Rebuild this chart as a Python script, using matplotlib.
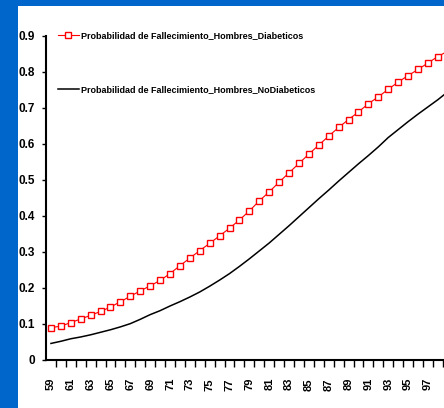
import matplotlib
matplotlib.use('Agg')
import matplotlib.pyplot as plt
from matplotlib.patches import Rectangle
import numpy as np

# ages shown on the category axis
ages = list(range(59, 100))

# probabilities
diabeticos = [0.090, 0.094, 0.104, 0.114, 0.124, 0.135, 0.147, 0.162, 0.177, 0.192,
              0.206, 0.221, 0.240, 0.262, 0.283, 0.304, 0.324, 0.345, 0.366, 0.389,
              0.414, 0.442, 0.467, 0.494, 0.520, 0.546, 0.572, 0.597, 0.622, 0.646,
              0.668, 0.689, 0.712, 0.731, 0.752, 0.772, 0.790, 0.807, 0.825, 0.843,
              0.858]
no_diabeticos = [0.046, 0.052, 0.059, 0.064, 0.070, 0.077, 0.084, 0.092, 0.101, 0.113,
                 0.126, 0.137, 0.150, 0.162, 0.175, 0.189, 0.205, 0.222, 0.240, 0.260,
                 0.281, 0.303, 0.325, 0.349, 0.373, 0.398, 0.423, 0.448, 0.472, 0.497,
                 0.521, 0.545, 0.568, 0.592, 0.618, 0.640, 0.662, 0.683, 0.703, 0.723,
                 0.745]

label_ages = ages[::2][:20]
yticks = [0, 0.1, 0.2, 0.3, 0.4, 0.5, 0.6, 0.7, 0.8, 0.9]
ylabels = ['0', '0.1', '0.2', '0.3', '0.4', '0.5', '0.6', '0.7', '0.8', '0.9']

fam = ['Liberation Sans', 'DejaVu Sans']

W, H = 444, 408
fig = plt.figure(figsize=(W / 100, H / 100), dpi=100, facecolor='#0066CC')
# white panel inside the blue frame
fig.patches.append(Rectangle((18 / W, 0), 1, (H - 6) / H, transform=fig.transFigure,
                             facecolor='white', edgecolor='none', zorder=-10))

n = len(ages)
step = 9.92
ax = fig.add_axes([46 / W, (H - 360) / H, n * step / W, (360 - 36) / H])
ax.set_facecolor('none')

x = np.arange(n)
ax.plot(x, diabeticos, color='red', lw=0.8, marker='s', ms=4.5, mfc='white',
        mec='red', mew=1.0, label='Probabilidad de Fallecimiento_Hombres_Diabeticos',
        clip_on=False)
ax.plot(x, no_diabeticos, color='black', lw=1.1,
        label='Probabilidad de Fallecimiento_Hombres_NoDiabeticos')

ax.set_xlim(-0.5, n - 0.5)
ax.set_ylim(0, 0.9)

for s in ['top', 'right']:
    ax.spines[s].set_visible(False)
ax.spines['left'].set_linewidth(1.5)
ax.spines['bottom'].set_linewidth(1.5)

ax.set_yticks(yticks)
ax.set_yticklabels(ylabels, fontfamily=fam, fontweight='bold', fontsize=8.5)
ax.tick_params(axis='y', length=3, width=1, pad=5, direction='out')

idx = [ages.index(a) for a in label_ages]
ax.set_xticks(idx)
ax.set_xticklabels([str(a) for a in label_ages], rotation=90,
                   fontfamily=fam, fontweight='bold', fontsize=8)
ax.set_xticks(np.arange(n) + 0.5, minor=True)
ax.tick_params(axis='x', which='major', length=0, pad=13)
ax.tick_params(axis='x', which='minor', length=5, width=1, direction='out')

leg = ax.legend(loc='upper left', bbox_to_anchor=(58 / W, (H - 31) / H),
                bbox_transform=fig.transFigure, frameon=False,
                borderpad=0, borderaxespad=0,
                handlelength=2.3, handletextpad=0.2, labelspacing=5.0,
                prop={'family': fam, 'weight': 'bold', 'size': 6.5})

fig.savefig('out.png', dpi=100, facecolor=fig.get_facecolor())
